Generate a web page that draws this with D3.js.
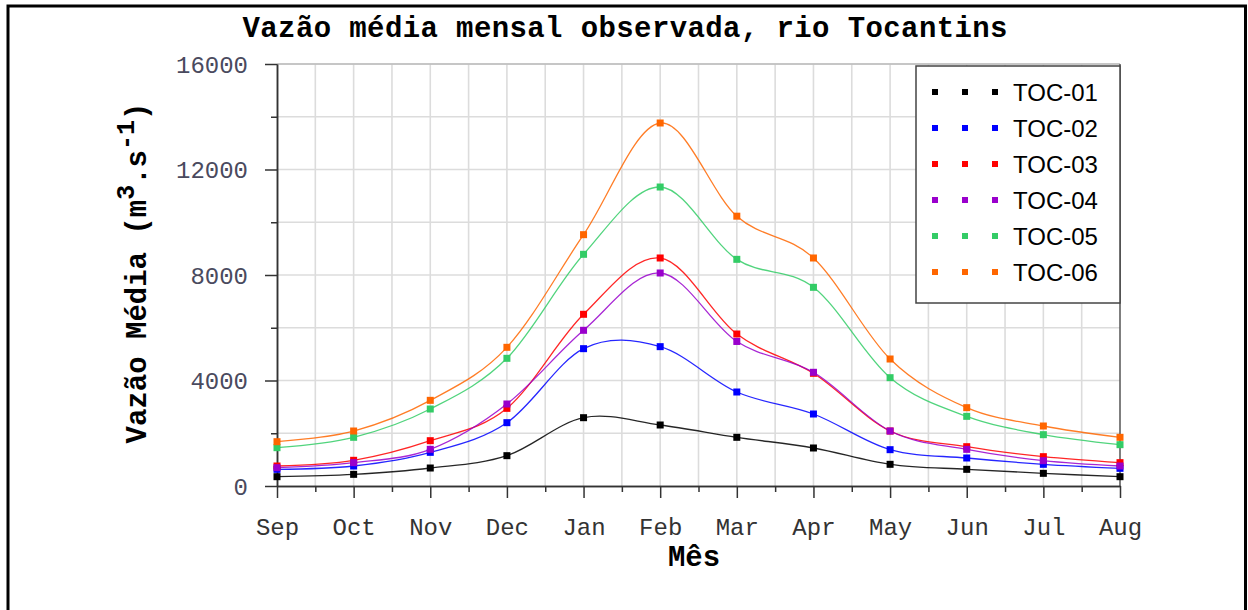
<!DOCTYPE html>
<html><head><meta charset="utf-8">
<script src="https://cdn.jsdelivr.net/npm/d3@7"></script>
<style>
html,body{margin:0;padding:0;background:#fff;}
svg{display:block;}
</style></head>
<body>
<svg id="chart" width="1248" height="610"></svg>
<script>
const months = ["Sep","Oct","Nov","Dec","Jan","Feb","Mar","Apr","May","Jun","Jul","Aug"];
const seriesNames = ["TOC-01","TOC-02","TOC-03","TOC-04","TOC-05","TOC-06"];
const toc01 = [353, 442, 682, 1150, 2590, 2313, 1846, 1441, 822, 632, 480, 353];
const toc02 = [632, 758, 1276, 2401, 5207, 5283, 3564, 2730, 1377, 1062, 822, 670];
const toc03 = [758, 974, 1718, 2944, 6510, 8645, 5763, 4273, 2085, 1491, 1112, 885];
const toc04 = [695, 885, 1391, 3109, 5903, 8076, 5480, 4311, 2085, 1390, 960, 758];
const toc05 = [1453, 1846, 2919, 4841, 8784, 11336, 8594, 7533, 4107, 2641, 1946, 1567];
const toc06 = [1680, 2085, 3248, 5258, 9529, 13763, 10230, 8645, 4815, 2970, 2275, 1846];
const yTicks = [0, 4000, 8000, 12000, 16000];
const colors = ["#000000","#0000ff","#ff0000","#9900cc","#33cc66","#ff6600"];

const allSeries = [toc01, toc02, toc03, toc04, toc05, toc06];

(function(){
const svg = d3.select("#chart");
const pL = 277, pR = 1120, pT = 64, pB = 486;
const x = d3.scaleLinear().domain([0, months.length - 1]).range([pL, pR]);
const y = d3.scaleLinear().domain([0, 16000]).range([pB, pT]);

// outer frame
svg.append("rect").attr("x", 8).attr("y", 6).attr("width", 1237.5).attr("height", 640)
  .attr("fill", "none").attr("stroke", "#000").attr("stroke-width", 3);

const mono = "'Liberation Mono','Courier New',monospace";

// grid
const halfIdx = d3.range(0, months.length - 1 + 0.01, 0.5);
const g = svg.append("g");
g.selectAll("line.vg").data(halfIdx.filter(d => d > 0 && d < months.length - 1)).join("line")
  .attr("x1", d => x(d)).attr("x2", d => x(d)).attr("y1", pT).attr("y2", pB)
  .attr("stroke", "#dcdcdc").attr("stroke-width", 1.6);
const yGrid = d3.range(2000, 16001, 2000);
g.selectAll("line.hg").data(yGrid).join("line")
  .attr("x1", pL).attr("x2", pR).attr("y1", d => y(d)).attr("y2", d => y(d))
  .attr("stroke", "#dcdcdc").attr("stroke-width", 1.6);
svg.append("line").attr("x1", pL).attr("x2", pR).attr("y1", pT).attr("y2", pT)
  .attr("stroke", "#bbb").attr("stroke-width", 1.5);
svg.append("line").attr("x1", pR).attr("x2", pR).attr("y1", pT).attr("y2", pB)
  .attr("stroke", "#555").attr("stroke-width", 1.5);

// x axis
const xAxis = d3.axisBottom(x).tickValues(d3.range(months.length))
  .tickFormat(i => months[i]).tickSize(12).tickSizeOuter(0).tickPadding(20);
const gx = svg.append("g").attr("transform", `translate(0,${pB})`).call(xAxis);
const xMinor = d3.axisBottom(x).tickValues(halfIdx.filter(d => d % 1 !== 0))
  .tickFormat("").tickSize(6).tickSizeOuter(0);
svg.append("g").attr("transform", `translate(0,${pB})`).call(xMinor);

// y axis
const yAxis = d3.axisLeft(y).tickValues(yTicks).tickFormat(d3.format("d"))
  .tickSize(12).tickSizeOuter(0).tickPadding(17);
const gy = svg.append("g").attr("transform", `translate(${pL},0)`).call(yAxis);
const yMinor = d3.axisLeft(y).tickValues([2000, 6000, 10000, 14000]).tickFormat("")
  .tickSize(6).tickSizeOuter(0);
svg.append("g").attr("transform", `translate(${pL},0)`).call(yMinor);

svg.selectAll(".domain").attr("stroke", "#333").attr("stroke-width", 1.5);
svg.selectAll(".tick line").attr("stroke", "#333").attr("stroke-width", 1.5);
gx.selectAll("text").attr("font-family", mono).attr("font-size", 24).attr("fill", "#333");
gy.selectAll("text").attr("font-family", mono).attr("font-size", 24).attr("fill", "#4a4a5e")
  .attr("dy", "0.34em");

// lines
const line = d3.line().x((d, i) => x(i)).y(d => y(d)).curve(d3.curveCardinal.tension(0));
const sg = svg.append("g");
allSeries.forEach((s, k) => {
  sg.append("path").datum(s).attr("d", line).attr("fill", "none")
    .attr("stroke", colors[k]).attr("stroke-width", 1.3).attr("opacity", 0.85);
});
allSeries.forEach((s, k) => {
  sg.selectAll(null).data(s).join("rect")
    .attr("x", (d, i) => x(i) - 3.5).attr("y", d => y(d) - 3.5)
    .attr("width", 7).attr("height", 7).attr("fill", colors[k]);
});

// title
svg.append("text").attr("x", 625).attr("y", 37).attr("text-anchor", "middle")
  .attr("font-family", mono).attr("font-weight", "bold").attr("font-size", 29)
  .attr("textLength", 765).attr("lengthAdjust", "spacing")
  .attr("fill", "#000").text("Vazão média mensal observada, rio Tocantins");

// x title
svg.append("text").attr("x", 694).attr("y", 566).attr("text-anchor", "middle")
  .attr("font-family", mono).attr("font-weight", "bold").attr("font-size", 29)
  .attr("fill", "#000").text("Mês");

// y title
const yt = svg.append("text").attr("transform", "translate(146,273) rotate(-90)")
  .attr("text-anchor", "middle").attr("font-family", mono).attr("font-weight", "bold")
  .attr("font-size", 29).attr("fill", "#000");
yt.append("tspan").text("Vazão Média (m");
yt.append("tspan").attr("dy", -12).attr("font-size", 25).text("3");
yt.append("tspan").attr("dy", 12).text(".s");
yt.append("tspan").attr("dy", -12).attr("font-size", 25).text("-1");
yt.append("tspan").attr("dy", 12).text(")");

// legend
const lg = svg.append("g");
lg.append("rect").attr("x", 916).attr("y", 66).attr("width", 204).attr("height", 237)
  .attr("fill", "#fff").attr("stroke", "#444").attr("stroke-width", 1.5);
seriesNames.forEach((name, k) => {
  const cy = 92 + k * 36;
  [935, 965, 995].forEach(cx => {
    lg.append("rect").attr("x", cx - 3).attr("y", cy - 3).attr("width", 6).attr("height", 6)
      .attr("fill", colors[k]);
  });
  lg.append("text").attr("x", 1013).attr("y", cy + 8.5)
    .attr("font-family", "'Liberation Sans',Arial,sans-serif").attr("font-size", 24)
    .attr("fill", "#000").text(name);
});
})();
</script>
</body></html>
